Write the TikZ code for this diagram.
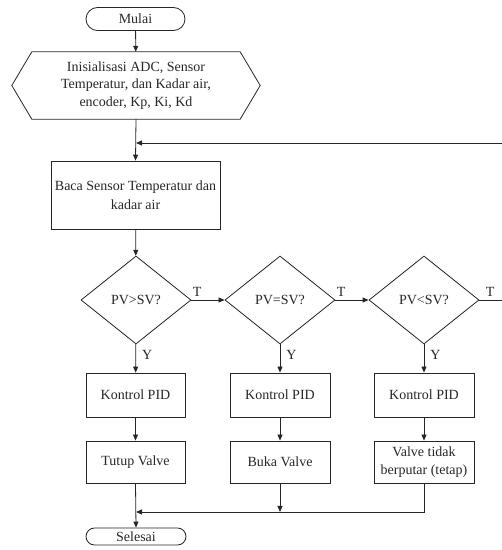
\documentclass[tikz,border=0pt]{standalone}
\usepackage{fontspec}
\setmainfont{Liberation Serif}
\usetikzlibrary{shapes.geometric,shapes.misc,arrows.meta,calc}
\begin{document}
\begin{tikzpicture}[x=1pt,y=1pt,
  every node/.style={font=\fontsize{14}{17.5}\selectfont, text=black!85},
  line/.style={draw=black!85, line width=0.8pt},
  arr/.style={line, -{Triangle[length=6pt,width=5pt]}},
  term/.style={draw=black!85, line width=0.8pt, rounded rectangle, minimum height=23pt, inner sep=0pt},
  proc/.style={draw=black!85, line width=0.8pt, rectangle, inner sep=0pt, align=center},
  dec/.style={draw=black!85, line width=0.8pt, diamond, minimum width=110pt, minimum height=88pt, inner sep=0pt, aspect=1.25},
  lbl/.style={font=\fontsize{14}{14}\selectfont, inner sep=0pt}
]
\useasboundingbox (0,0) rectangle (502,550);

\node[term, minimum width=99pt] (mulai) at (135.5,531) {Mulai};
\node[rectangle, inner sep=0pt, minimum width=208pt, minimum height=67pt, align=center] (init) at (136,464.5)
  {Inisialisasi ADC, Sensor\\Temperatur, dan Kadar air,\\encoder, Kp, Ki, Kd};
\draw[line] (init.north west) -- (init.north east) -- ($(init.east)+(20pt,0pt)$) -- (init.south east)
  -- (init.south west) -- ($(init.west)+(-20pt,0pt)$) -- cycle;

\node[proc, minimum width=169pt, minimum height=68pt, font=\fontsize{14}{19}\selectfont] (baca) at (135.5,355)
  {Baca Sensor Temperatur dan\\kadar air};

\node[dec] (d1) at (136,250) {PV>SV?};
\node[dec] (d2) at (280,250) {PV=SV?};
\node[dec] (d3) at (424,250) {PV<SV?};

\node[proc, minimum width=99pt, minimum height=44pt] (k1) at (135.5,155) {Kontrol PID};
\node[proc, minimum width=100pt, minimum height=44pt] (k2) at (280,155) {Kontrol PID};
\node[proc, minimum width=100pt, minimum height=44pt] (k3) at (424,155) {Kontrol PID};

\node[proc, minimum width=99pt, minimum height=42pt] (v1) at (135.5,88) {Tutup Valve};
\node[proc, minimum width=100pt, minimum height=42pt] (v2) at (280,88) {Buka Valve};
\node[proc, minimum width=100pt, minimum height=42pt] (v3) at (424,88) {Valve tidak\\berputar (tetap)};

\node[term, minimum width=100pt, minimum height=17pt] (selesai) at (136,13.5) {Selesai};

\coordinate (loopin) at (136,407);
\coordinate (loopr) at (502,407);
\coordinate (d3r) at (502,250);
\coordinate (m3) at (424,38);
\coordinate (m2) at (280,38);
\coordinate (m1) at (136,38);

\draw[arr] (mulai) -- (init);
\draw[arr] (init.south) -- (baca.north);
\draw[arr] (loopr) -- (loopin);
\draw[arr] (baca) -- (d1);
\draw[arr] (d1) -- node[lbl, pos=0, anchor=south west, xshift=1pt, yshift=3pt] {T} (d2);
\draw[arr] (d2) -- node[lbl, pos=0, anchor=south west, xshift=1pt, yshift=3pt] {T} (d3);
\draw[line] (d3.east) -- node[lbl, pos=0, anchor=south west, xshift=6pt, yshift=3pt] {T} (d3r);
\draw[arr] (d1) -- node[lbl, pos=0, anchor=north west, xshift=6pt, yshift=-6pt] {Y} (k1);
\draw[arr] (d2) -- node[lbl, pos=0, anchor=north west, xshift=6pt, yshift=-6pt] {Y} (k2);
\draw[arr] (d3) -- node[lbl, pos=0, anchor=north west, xshift=6pt, yshift=-6pt] {Y} (k3);
\draw[arr] (k1) -- (v1);
\draw[arr] (k2) -- (v2);
\draw[arr] (k3) -- (v3);
\draw[arr] (v1.south) -- (selesai.north);
\draw[arr] (v2.south) -- (m2);
\draw[arr] (v3.south) -- (m3) -- (m1);
\end{tikzpicture}
\end{document}
